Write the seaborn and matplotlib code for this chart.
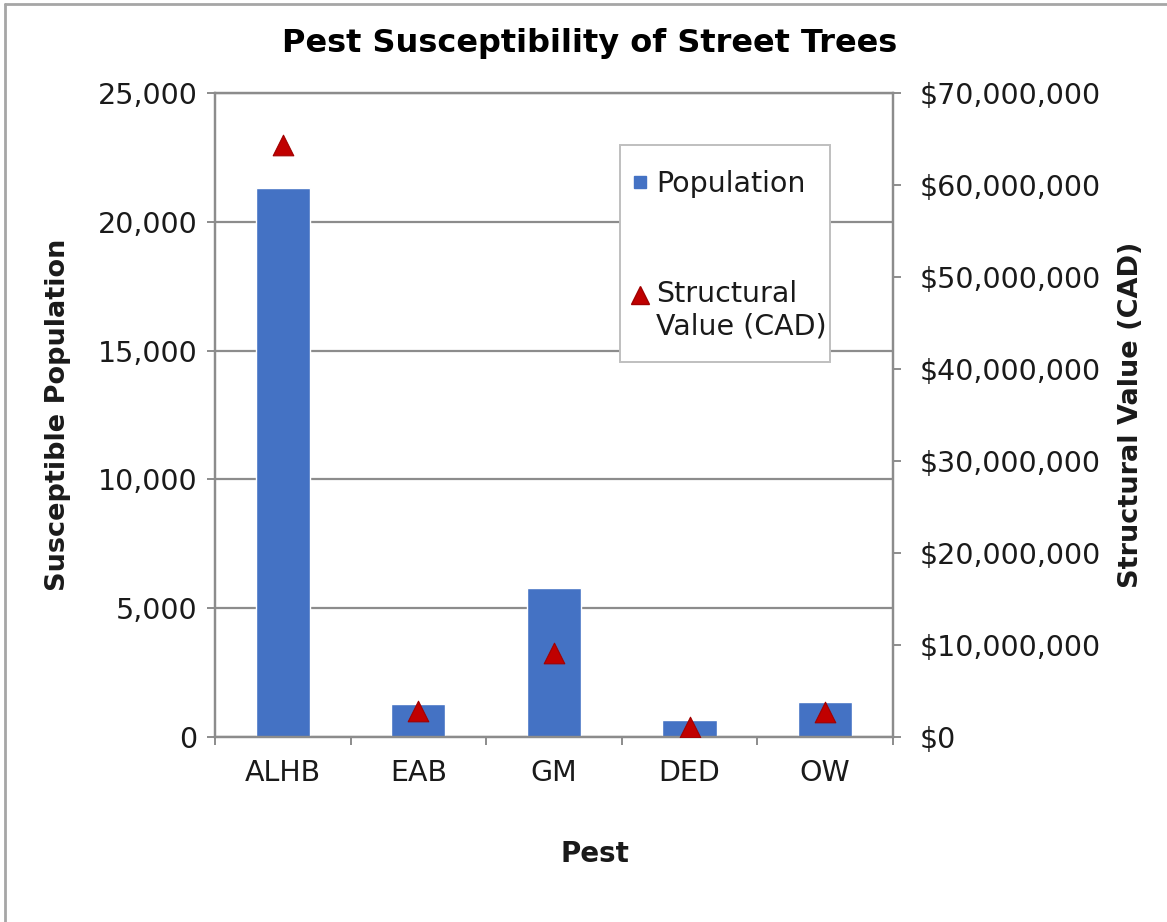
import matplotlib
matplotlib.use("Agg")
import matplotlib.pyplot as plt
import matplotlib.ticker as mticker
from matplotlib.lines import Line2D
from matplotlib.patches import Rectangle
import pandas as pd
import seaborn as sns

sns.set_theme(style="white")
plt.rcParams["font.family"] = ["DejaVu Sans"]

pests = ["ALHB", "EAB", "GM", "DED", "OW"]
population = [21300, 1280, 5770, 660, 1350]
structural_value = [64300000, 2800000, 9100000, 1100000, 2700000]

BAR_COLOR = "#4472C4"
MARKER_COLOR = "#C00000"
GRID_COLOR = "#8C8C8C"
TEXT_COLOR = "#1A1A1A"
TICK_SIZE = 20.5


def build_frame():
    """
    Put the chart values in one table for seaborn.
    """
    return pd.DataFrame({
        "pest": pests,
        "population": population,
        "value": structural_value,
    })


def plot_chart(df):
    """
    Bars for population, triangles for structural value.
    """
    fig = plt.figure(figsize=(11.67, 9.22), dpi=100)
    ax = fig.add_axes([0.1842, 0.2007, 0.5810, 0.6984])

    sns.barplot(
        data=df,
        x="pest",
        y="population",
        color=BAR_COLOR,
        saturation=1,
        width=0.4,
        ax=ax,
    )
    ax.set_xlim(-0.5, 4.5)
    ax.set_ylim(0, 25000)
    ax.set_yticks(range(0, 25001, 5000))
    ax.yaxis.set_major_formatter(mticker.FuncFormatter(lambda v, p: f"{v:,.0f}"))
    ax.set_axisbelow(True)
    ax.yaxis.grid(True, color=GRID_COLOR, linewidth=1.6)
    ax.xaxis.grid(False)

    ax2 = ax.twinx()
    sns.scatterplot(
        data=df,
        x="pest",
        y="value",
        marker="^",
        s=220,
        color=MARKER_COLOR,
        edgecolor="#A00000",
        linewidth=0.8,
        ax=ax2,
        legend=False,
        zorder=5,
    )
    ax2.set_xlim(-0.5, 4.5)
    ax2.set_ylim(0, 70000000)
    ax2.set_yticks(range(0, 70000001, 10000000))
    ax2.yaxis.set_major_formatter(mticker.FuncFormatter(lambda v, p: f"${v:,.0f}"))

    for a in (ax, ax2):
        for side in ("left", "right", "bottom", "top"):
            a.spines[side].set_color(GRID_COLOR)
            a.spines[side].set_linewidth(1.6)

    ax.tick_params(axis="y", which="major", left=True, length=5.5, width=1.4,
                   color=GRID_COLOR, labelsize=TICK_SIZE, pad=7,
                   labelcolor=TEXT_COLOR)
    ax2.tick_params(axis="y", which="major", right=True, length=5.5, width=1.4,
                    color=GRID_COLOR, labelsize=TICK_SIZE, pad=14,
                    labelcolor=TEXT_COLOR)
    ax.set_xticks(range(len(pests)))
    ax.set_xticklabels(pests)
    ax.set_xticks([i - 0.5 for i in range(len(pests) + 1)], minor=True)
    ax.tick_params(axis="x", which="major", bottom=False, length=0,
                   labelsize=TICK_SIZE, pad=16, labelcolor=TEXT_COLOR)
    ax.tick_params(axis="x", which="minor", bottom=True, length=6, width=1.4,
                   color=GRID_COLOR)

    ax.set_xlabel("Pest", fontsize=20, fontweight="bold", color=TEXT_COLOR)
    ax.xaxis.set_label_coords(0.56, -0.160)
    ax.set_ylabel("Susceptible Population", fontsize=19.5, fontweight="bold",
                  labelpad=19, color=TEXT_COLOR)
    ax2.set_ylabel("Structural Value (CAD)", fontsize=19.5, fontweight="bold",
                   labelpad=12, color=TEXT_COLOR)

    # legend box drawn separately so the padding can be uneven like Excel's
    ax2.add_patch(Rectangle(
        (0.597, 0.582), 0.310, 0.337,
        transform=ax2.transAxes,
        facecolor="white",
        edgecolor="#BFBFBF",
        linewidth=1.4,
        zorder=4,
        clip_on=False,
    ))
    handles = [
        Line2D([], [], linestyle="none", marker="s", markersize=9,
               color=BAR_COLOR),
        Line2D([], [], linestyle="none", marker="^", markersize=13,
               color=MARKER_COLOR, markeredgecolor="#A00000"),
    ]
    leg = ax2.legend(
        handles,
        ["Population", "Structural\nValue (CAD)"],
        loc="upper left",
        bbox_to_anchor=(0.615, 0.881),
        fontsize=TICK_SIZE,
        frameon=False,
        labelspacing=2.9,
        handlelength=0.6,
        handletextpad=0.25,
        borderpad=0,
        borderaxespad=0,
    )
    leg.set_zorder(6)
    for t in leg.get_texts():
        t.set_color(TEXT_COLOR)
    # Excel puts the triangle next to the first line of the label
    tri = leg.legend_handles[1]
    tri.set_ydata([v + 12 for v in tri.get_ydata()])

    fig.text(0.505, 0.953, "Pest Susceptibility of Street Trees",
             ha="center", va="center", fontsize=23, fontweight="bold",
             color="#000000")

    fig.add_artist(Line2D([0.004, 0.004], [0.0, 0.996], color="#A6A6A6",
                          linewidth=2, transform=fig.transFigure))
    fig.add_artist(Line2D([0.004, 1.0], [0.996, 0.996], color="#A6A6A6",
                          linewidth=2, transform=fig.transFigure))

    fig.savefig("out.png", dpi=100, facecolor="white")
    plt.close(fig)


def main():
    df = build_frame()
    plot_chart(df)


if __name__ == "__main__":
    main()
